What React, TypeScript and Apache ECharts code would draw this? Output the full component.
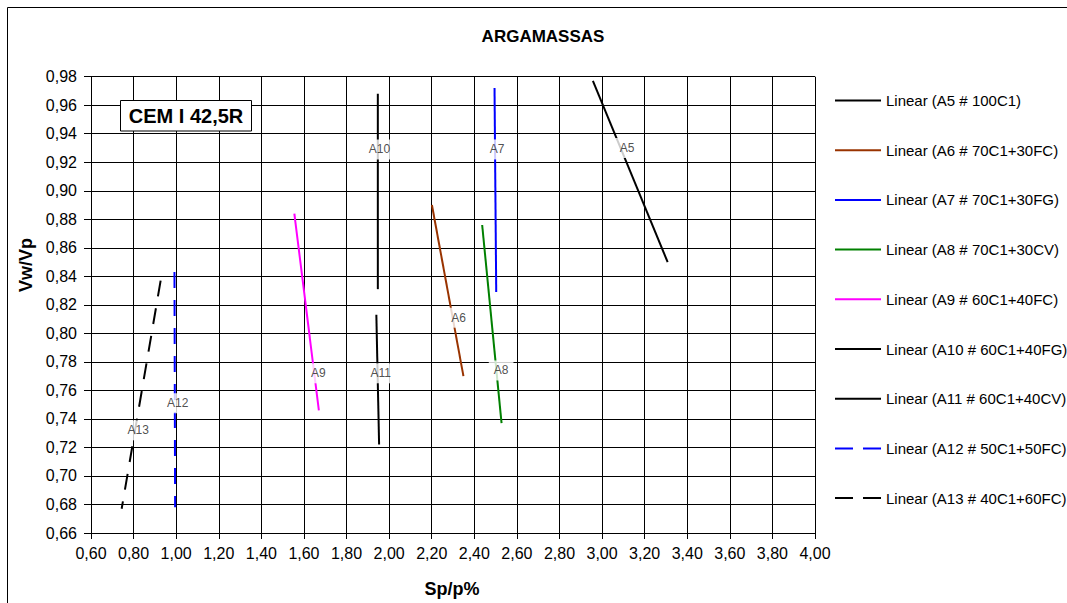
import React, { useEffect, useRef } from "react";
import * as echarts from "echarts";

const FONT = '"Liberation Sans", Arial, Helvetica, sans-serif';

// Axes
const xMin = 0.6;
const xMax = 4.0;
const xStep = 0.2;
const yMin = 0.66;
const yMax = 0.98;
const yStep = 0.02;

// Series (linear trend lines: start and end points)
const seriesNames = [
  "Linear (A5 # 100C1)",
  "Linear (A6 # 70C1+30FC)",
  "Linear (A7 # 70C1+30FG)",
  "Linear (A8 # 70C1+30CV)",
  "Linear (A9 # 60C1+40FC)",
  "Linear (A10 # 60C1+40FG)",
  "Linear (A11 # 60C1+40CV)",
  "Linear (A12 # 50C1+50FC)",
  "Linear (A13 # 40C1+60FC)",
];
const seriesColors = ["#000000", "#993300", "#0000ff", "#008000", "#ff00ff", "#000000", "#000000", "#0000ff", "#000000"];
const seriesDashed = [false, false, false, false, false, false, false, true, true];

const a5Line = [[2.957, 0.977], [3.308, 0.850]];
const a6Line = [[2.201, 0.890], [2.349, 0.770]];
const a7Line = [[2.495, 0.972], [2.503, 0.829]];
const a8Line = [[2.437, 0.876], [2.528, 0.737]];
const a9Line = [[1.555, 0.884], [1.670, 0.746]];
const a10Line = [[1.947, 0.968], [1.947, 0.831]];
const a11Line = [[1.940, 0.813], [1.953, 0.722]];
const a12Line = [[0.992, 0.843], [0.995, 0.678]];
const a13Line = [[0.927, 0.837], [0.744, 0.677]];
const lineData = [a5Line, a6Line, a7Line, a8Line, a9Line, a10Line, a11Line, a12Line, a13Line];

// In-plot labels
const pointLabels = ["A5", "A6", "A7", "A8", "A9", "A10", "A11", "A12", "A13"];
const labelX = [3.117, 2.326, 2.507, 2.526, 1.668, 1.955, 1.961, 1.007, 0.822];
const labelY = [0.930, 0.811, 0.929, 0.774, 0.772, 0.929, 0.772, 0.751, 0.732];

const fmt = (v: number) => v.toFixed(2).replace(".", ",");

export default function App() {
  const ref = useRef<HTMLDivElement>(null);
  useEffect(() => {
    if (!ref.current) return;
    const chart = echarts.init(ref.current, undefined, { renderer: "svg" });
    const lineSeries = seriesNames.map((name, i) => ({
      name,
      type: "line",
      data: lineData[i],
      symbol: "none",
      silent: true,
      z: 3,
      itemStyle: { color: seriesColors[i] },
      lineStyle: {
        color: seriesColors[i],
        width: 2,
        type: seriesDashed[i] ? [16, 12] : "solid",
      },
    }));
    const labelSeries = {
      name: "labels",
      type: "scatter",
      symbolSize: 0,
      silent: true,
      z: 5,
      data: pointLabels.map((t, i) => ({ value: [labelX[i], labelY[i]], name: t })),
      label: {
        show: true,
        position: "inside",
        formatter: (p: any) => p.name,
        fontFamily: FONT,
        fontSize: 12,
        color: "#222",
        backgroundColor: "#ffffff",
        padding: [4, 5],
      },
    };
    chart.setOption({
      animation: false,
      backgroundColor: "#ffffff",
      grid: { left: 91, top: 76.7, right: 252, bottom: 70, containLabel: false },
      xAxis: {
        type: "value",
        min: xMin,
        max: xMax,
        interval: xStep,
        axisLine: { show: true, lineStyle: { color: "#000", width: 1 } },
        axisTick: { show: true, length: 6, lineStyle: { color: "#000" } },
        axisLabel: { formatter: fmt, fontFamily: FONT, fontSize: 16, color: "#000", margin: 12 },
        splitLine: { show: true, lineStyle: { color: "#000", width: 1 } },
      },
      yAxis: {
        type: "value",
        min: yMin,
        max: yMax,
        interval: yStep,
        axisLine: { show: true, lineStyle: { color: "#000", width: 1 } },
        axisTick: { show: true, length: 7, lineStyle: { color: "#000" } },
        axisLabel: { formatter: fmt, fontFamily: FONT, fontSize: 16, color: "#000", margin: 14 },
        splitLine: { show: true, lineStyle: { color: "#000", width: 1 } },
      },
      legend: {
        data: seriesNames.map((name, i) => ({
          name,
          lineStyle: { type: seriesDashed[i] ? [18, 10] : "solid", width: 2 },
        })),
        orient: "vertical",
        left: 834,
        top: 93,
        padding: 0,
        itemWidth: 46,
        itemHeight: 14,
        itemGap: 34.7,
        itemStyle: { opacity: 0 },
        textStyle: { fontFamily: FONT, fontSize: 15, color: "#000" },
      },
      graphic: [
        {
          type: "rect",
          shape: { x: 7.5, y: 7.5, width: 1200, height: 800 },
          style: { fill: "none", stroke: "#000", lineWidth: 1 },
          silent: true,
          z: 0,
        },
        {
          type: "text",
          x: 543,
          y: 36,
          style: { text: "ARGAMASSAS", font: `bold 17px ${FONT}`, fill: "#000", textAlign: "center", textVerticalAlign: "middle" },
        },
        {
          type: "text",
          x: 25.5,
          y: 265,
          rotation: Math.PI / 2,
          style: { text: "Vw/Vp", font: `bold 18px ${FONT}`, fill: "#000", textAlign: "center", textVerticalAlign: "middle" },
        },
        {
          type: "text",
          x: 452,
          y: 589,
          style: { text: "Sp/p%", font: `bold 18px ${FONT}`, fill: "#000", textAlign: "center", textVerticalAlign: "middle" },
        },
        {
          type: "rect",
          shape: { x: 120.5, y: 100.5, width: 131, height: 30.5 },
          style: { fill: "#fff", stroke: "#000", lineWidth: 1 },
          z: 10,
        },
        {
          type: "text",
          x: 186,
          y: 116,
          z: 11,
          style: { text: "CEM I 42,5R", font: `bold 20px ${FONT}`, fill: "#000", textAlign: "center", textVerticalAlign: "middle" },
        },
      ],
      series: [...lineSeries, labelSeries],
    });
    return () => chart.dispose();
  }, []);
  return <div ref={ref} style={{ position: "absolute", left: 0, top: 0, width: 1067, height: 603 }} />;
}
